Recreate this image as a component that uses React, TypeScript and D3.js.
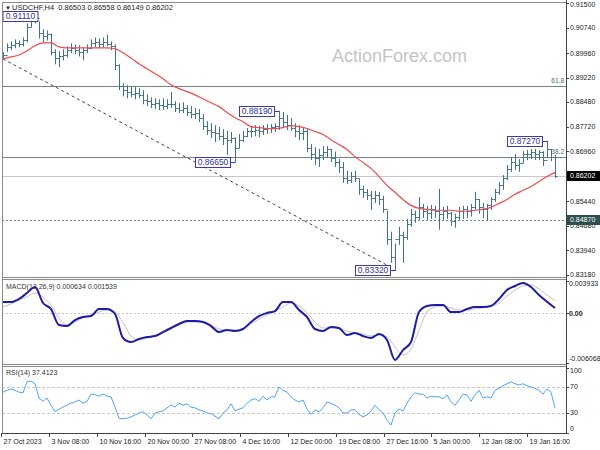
import { useEffect, useRef } from "react";
import * as d3 from "d3";

// USDCHF H4 — prices in pips (x 1e-4), one bar here ~ 2.7 source bars
const barHigh = [
  8998, 9025, 9031, 9037, 9034, 9043, 9086, 9107, 9111, 9092,
  9068, 9065, 9055, 9007, 9001, 9007, 9016, 9025, 9022, 9019,
  9013, 9022, 9037, 9043, 9040, 9043, 9052, 9031, 9022, 8961,
  8903, 8897, 8894, 8891, 8888, 8882, 8869, 8860, 8857, 8854,
  8857, 8854, 8876, 8848, 8842, 8845, 8836, 8833, 8827, 8824,
  8809, 8787, 8781, 8775, 8769, 8763, 8757, 8754, 8738, 8748,
  8757, 8766, 8772, 8775, 8772, 8775, 8778, 8778, 8781, 8819,
  8815, 8806, 8796, 8781, 8775, 8769, 8763, 8717, 8707, 8702,
  8711, 8711, 8702, 8694, 8671, 8662, 8635, 8632, 8635, 8610,
  8589, 8580, 8574, 8574, 8571, 8559, 8513, 8449, 8412, 8464,
  8449, 8488, 8519, 8513, 8555, 8534, 8528, 8531, 8528, 8580,
  8525, 8528, 8510, 8504, 8525, 8528, 8528, 8534, 8571, 8549,
  8537, 8534, 8555, 8580, 8601, 8622, 8653, 8677, 8687, 8671,
  8695, 8699, 8702, 8702, 8699, 8695, 8727, 8702, 8684,
];
const barLow = [
  8979, 9001, 9007, 9013, 9016, 9019, 9031, 9077, 9089, 9043,
  9031, 9037, 8991, 8964, 8955, 8976, 8985, 8998, 8995, 8988,
  8976, 8998, 9010, 9016, 9013, 9016, 9019, 9007, 8946, 8885,
  8866, 8860, 8863, 8857, 8860, 8842, 8836, 8830, 8827, 8824,
  8824, 8827, 8830, 8818, 8815, 8815, 8806, 8799, 8796, 8787,
  8763, 8748, 8738, 8726, 8732, 8717, 8687, 8723, 8665, 8707,
  8726, 8741, 8741, 8744, 8741, 8748, 8751, 8754, 8757, 8763,
  8769, 8763, 8760, 8741, 8732, 8732, 8695, 8671, 8656, 8650,
  8671, 8677, 8665, 8650, 8632, 8601, 8598, 8601, 8604, 8565,
  8555, 8549, 8519, 8540, 8534, 8510, 8412, 8357, 8332, 8412,
  8357, 8427, 8467, 8479, 8488, 8494, 8488, 8491, 8494, 8458,
  8488, 8491, 8470, 8464, 8488, 8491, 8494, 8498, 8519, 8507,
  8494, 8485, 8519, 8543, 8565, 8580, 8610, 8635, 8641, 8635,
  8662, 8671, 8674, 8671, 8671, 8653, 8677, 8668, 8616,
];
const barClose = [
  8991, 9016, 9022, 9028, 9025, 9037, 9077, 9098, 9104, 9058,
  9049, 9055, 9001, 8982, 8988, 8991, 9007, 9013, 9007, 9001,
  9007, 9013, 9028, 9031, 9025, 9031, 9025, 9019, 8961, 8897,
  8885, 8879, 8873, 8876, 8869, 8854, 8851, 8842, 8845, 8839,
  8836, 8842, 8842, 8830, 8824, 8830, 8818, 8812, 8815, 8799,
  8775, 8763, 8754, 8751, 8744, 8738, 8732, 8738, 8707, 8732,
  8744, 8757, 8760, 8763, 8757, 8766, 8769, 8772, 8775, 8799,
  8787, 8778, 8769, 8760, 8751, 8760, 8707, 8687, 8677, 8684,
  8695, 8702, 8677, 8665, 8647, 8616, 8610, 8622, 8616, 8580,
  8571, 8562, 8555, 8562, 8549, 8519, 8427, 8373, 8427, 8440,
  8434, 8473, 8504, 8494, 8525, 8513, 8507, 8519, 8513, 8504,
  8513, 8507, 8482, 8494, 8513, 8519, 8513, 8525, 8549, 8525,
  8519, 8531, 8549, 8571, 8592, 8616, 8641, 8665, 8653, 8662,
  8687, 8689, 8694, 8687, 8694, 8671, 8702, 8680, 8620,
];

// moving average (red), sampled every 2nd bar, pips
const maPips = [
  8979, 8985, 8991, 9004, 9019, 9028, 9028, 9016, 9013, 9013,
  9013, 9013, 9013, 9013, 9010, 8998, 8982, 8964, 8949, 8934,
  8918, 8900, 8888, 8879, 8869, 8857, 8845, 8833, 8815, 8799,
  8787, 8772, 8769, 8766, 8766, 8769, 8775, 8772, 8766, 8757,
  8748, 8732, 8717, 8702, 8680, 8662, 8644, 8619, 8592, 8571,
  8549, 8531, 8522, 8519, 8516, 8516, 8516, 8513, 8513, 8516,
  8519, 8525, 8537, 8549, 8565, 8577, 8589, 8604, 8619, 8632,
];

// MACD(12,26,9), x 1e-4, every 2nd bar
const macdMain = [
  13.7, 13.7, 17.4, 24.7, 32.0, 12.5, 5.2, -14.4, -15.6, -8.3,
  -4.6, -3.4, 5.2, 5.2, -0.9, -30.2, -35.1, -31.4, -29.0, -27.8,
  -22.9, -18.0, -13.1, -9.5, -9.5, -10.7, -15.6, -22.9, -20.5, -21.7,
  -19.2, -10.7, -3.4, 0.3, 2.7, 13.7, 13.7, 3.9, -4.6, -19.2,
  -21.7, -16.8, -18.0, -26.6, -24.1, -27.8, -30.2, -25.3, -32.6, -57.0,
  -44.9, -35.1, 1.5, 8.8, 10.0, 10.0, 1.5, 1.5, 5.2, 7.6,
  7.6, 8.8, 17.4, 28.3, 33.2, 37.0, 32.0, 22.2, 14.0, 6.3,
];
const macdSignal = [
  7.6, 11.3, 16.1, 19.8, 24.7, 19.8, 10.0, -5.8, -14.4, -10.7,
  -5.8, -2.2, 1.5, 3.9, 1.5, -11.5, -27.8, -32.6, -30.2, -27.8,
  -24.1, -19.2, -14.4, -10.7, -10.7, -10.7, -14.4, -19.2, -20.5, -20.5,
  -19.2, -13.1, -7.0, -2.2, 2.7, 7.6, 12.5, 8.8, 0.3, -10.7,
  -18.0, -18.0, -19.2, -21.7, -24.1, -25.3, -27.8, -26.6, -29.0, -41.2,
  -51.0, -43.6, -20.5, 1.5, 7.6, 8.8, 6.4, 3.9, 3.9, 5.2,
  6.4, 8.8, 12.5, 21.0, 28.3, 33.2, 34.4, 29.6, 22.2, 15.4,
];

// RSI(14), one value per bar
const rsiValues = [
  62, 65, 67, 65, 62, 61, 78, 79, 75, 53,
  48, 53, 42, 32, 36, 39, 42, 45, 47, 50,
  45, 48, 59, 58, 56, 59, 56, 55, 39, 22,
  21, 22, 24, 27, 30, 32, 27, 21, 30, 32,
  33, 38, 42, 39, 45, 42, 44, 39, 38, 35,
  33, 30, 29, 25, 21, 30, 35, 44, 33, 36,
  38, 45, 50, 52, 48, 56, 50, 55, 55, 70,
  65, 62, 55, 50, 47, 50, 36, 28, 35, 32,
  38, 47, 45, 42, 38, 30, 30, 35, 35, 28,
  24, 27, 33, 42, 35, 30, 19, 11.5, 30, 36,
  33, 45, 55, 61, 59, 59, 53, 56, 55, 55,
  52, 58, 47, 42, 50, 59, 58, 48, 58, 65,
  53, 55, 53, 65, 68, 72, 75, 78, 75, 73,
  75, 72, 70, 68, 65, 59, 67, 62, 37.4,
];

const priceTicks = [0.915, 0.9074, 0.8996, 0.8922, 0.8848, 0.8772, 0.8696, 0.8544, 0.8468, 0.8394, 0.8318];
const dateLabels = [
  "27 Oct 2023", "3 Nov 08:00", "10 Nov 16:00", "20 Nov 00:00", "27 Nov 08:00", "4 Dec 16:00",
  "12 Dec 00:00", "19 Dec 08:00", "27 Dec 16:00", "5 Jan 00:00", "12 Jan 08:00", "19 Jan 16:00",
];
const dateTickBars = [-0.5, 11.5, 23.4, 35.4, 47.3, 59.3, 71.3, 83.2, 95.2, 107.1, 119.1, 131.1];

const pivotBars = [8, 58, 69, 98, 136];
const pivotPrices = [0.9111, 0.8665, 0.8819, 0.8332, 0.8727];

const fibNames = ["61.8", "38.2"];
const fibPrices = [0.8896, 0.868];
const trendBars = [0, 96.5];
const trendPrices = [0.8979, 0.8345];
const lastPrice = 0.86202;
const supportPrice = 0.8487;
const headerOhlc = [0.86503, 0.86558, 0.86149, 0.86202];

const macdTicks = [0.003933, 0, -0.006068];
const macdTickText = ["0.003933", "0.00", "-0.006068"];
const rsiTicks = [100, 70, 30, 0];

export default function App() {
  const ref = useRef<SVGSVGElement>(null);

  useEffect(() => {
    if (!ref.current) return;
    document.body.style.margin = "0";
    const svg = d3.select(ref.current);
    svg.selectAll("*").remove();

    const font = "'Liberation Sans', Arial, sans-serif";
    const left = 2;
    const right = 566;
    const main = { top: 2, bottom: 277 };
    const macdP = { top: 279, bottom: 365 };
    const rsiP = { top: 366, bottom: 433 };
    const N = barClose.length;
    const pip = (v: number) => v / 10000;

    const x = d3.scaleLinear().domain([0, N - 1]).range([3, 555]);
    const y = d3.scaleLinear().domain([0.8318, 0.915]).range([275, 3]);
    const yM = d3.scaleLinear().domain([-0.006068, 0.003933]).range([363, 281]);
    const yR = d3.scaleLinear().domain([0, 100]).range([432.5, 367.5]);
    const cx = (i: number) => Math.round(x(i)) + 0.5;

    svg.append("rect").attr("width", 600).attr("height", 450).attr("fill", "#fff");

    const defs = svg.append("defs");
    const panels: [string, { top: number; bottom: number }][] = [
      ["clipMain", main], ["clipMacd", macdP], ["clipRsi", rsiP],
    ];
    for (const [id, r] of panels) {
      defs.append("clipPath").attr("id", id).append("rect")
        .attr("x", left).attr("y", r.top).attr("width", right - left).attr("height", r.bottom - r.top);
    }

    // ---- main panel
    const gMain = svg.append("g").attr("clip-path", "url(#clipMain)");

    gMain.append("text")
      .attr("x", 332).attr("y", 62)
      .attr("font-family", font).attr("font-size", 18)
      .attr("fill", "#c4c4c4")
      .text("ActionForex.com");

    gMain.append("g")
      .selectAll("line")
      .data(fibPrices)
      .join("line")
        .attr("x1", left).attr("x2", right)
        .attr("y1", d => Math.round(y(d)) + 0.5).attr("y2", d => Math.round(y(d)) + 0.5)
        .attr("stroke", "#6f8585").attr("stroke-width", 1);

    gMain.append("line")
      .attr("x1", left).attr("x2", right)
      .attr("y1", Math.round(y(lastPrice)) + 0.5).attr("y2", Math.round(y(lastPrice)) + 0.5)
      .attr("stroke", "#c8c8c8");

    gMain.append("line")
      .attr("x1", left).attr("x2", right)
      .attr("y1", Math.round(y(supportPrice)) + 0.5).attr("y2", Math.round(y(supportPrice)) + 0.5)
      .attr("stroke", "#6f8a8a").attr("stroke-dasharray", "2,2");

    gMain.append("line")
      .attr("x1", x(trendBars[0])).attr("y1", y(trendPrices[0]))
      .attr("x2", x(trendBars[1])).attr("y2", y(trendPrices[1]))
      .attr("stroke", "#444").attr("stroke-dasharray", "3,3");

    const bars = gMain.append("g").attr("stroke", "#3f7191").attr("stroke-width", 1);
    const idx = d3.range(N);
    bars.selectAll("line.hl").data(idx).join("line").attr("class", "hl")
      .attr("x1", cx).attr("x2", cx)
      .attr("y1", i => y(pip(barHigh[i])) - 0.5).attr("y2", i => y(pip(barLow[i])) + 0.5);
    bars.selectAll("line.op").data(idx.slice(1)).join("line").attr("class", "op")
      .attr("x1", i => cx(i) - 2).attr("x2", i => cx(i))
      .attr("y1", i => Math.round(y(pip(barClose[i - 1]))) + 0.5)
      .attr("y2", i => Math.round(y(pip(barClose[i - 1]))) + 0.5);
    bars.selectAll("line.cl").data(idx).join("line").attr("class", "cl")
      .attr("x1", cx).attr("x2", i => cx(i) + 2)
      .attr("y1", i => Math.round(y(pip(barClose[i]))) + 0.5)
      .attr("y2", i => Math.round(y(pip(barClose[i]))) + 0.5);

    gMain.append("path")
      .datum(maPips)
      .attr("fill", "none").attr("stroke", "#f04a4a").attr("stroke-width", 1.2)
      .attr("d", d3.line<number>().x((_, k) => x(k * 2)).y(d => y(pip(d))).curve(d3.curveMonotoneX));

    gMain.append("g")
      .attr("font-family", font).attr("font-size", 6.5).attr("fill", "#4f6a6a")
      .attr("text-anchor", "end")
      .selectAll("text")
      .data(fibPrices)
      .join("text")
        .attr("x", right - 2).attr("y", d => y(d) - 3)
        .text((_, k) => fibNames[k]);

    const tagH = 10;
    const tags = gMain.append("g").attr("font-family", font).attr("font-size", 8.5);
    pivotBars.forEach((b, k) => {
      const bx = cx(b);
      const by = Math.round(y(pivotPrices[k])) + 0.5;
      const label = d3.format(".5f")(pivotPrices[k]);
      const tw = 35;
      // the first tag sits against the left edge and is partly cut, as in the source
      const boxRight = Math.max(bx - 5, left + tw + 1);
      tags.append("line")
        .attr("x1", boxRight).attr("x2", bx).attr("y1", by).attr("y2", by)
        .attr("stroke", "#3a3ab4");
      tags.append("rect")
        .attr("x", boxRight - tw).attr("y", by - tagH / 2)
        .attr("width", tw).attr("height", tagH)
        .attr("fill", "#fff").attr("stroke", "#3a3ab4");
      tags.append("text")
        .attr("x", boxRight - tw / 2).attr("y", by).attr("dy", "0.35em")
        .attr("text-anchor", "middle").attr("fill", "#3030a8")
        .text(label);
    });

    gMain.append("text")
      .attr("x", 5).attr("y", 9.5)
      .attr("font-family", font).attr("font-size", 6).attr("fill", "#222")
      .text("\u25BC");
    gMain.append("text")
      .attr("x", 12).attr("y", 9.5)
      .attr("font-family", font).attr("font-size", 7.5).attr("fill", "#222")
      .style("white-space", "pre")
      .text(`USDCHF,H4  ${headerOhlc.map(d3.format(".5f")).join(" ")}`);

    // ---- MACD panel
    const gMacd = svg.append("g").attr("clip-path", "url(#clipMacd)");
    gMacd.append("line")
      .attr("x1", left).attr("x2", right)
      .attr("y1", Math.round(yM(0)) + 0.5).attr("y2", Math.round(yM(0)) + 0.5)
      .attr("stroke", "#c8c8c8").attr("stroke-dasharray", "2,2");
    const macdLine = d3.line<number>().x((_, k) => x(k * 2)).y(d => yM(d / 10000)).curve(d3.curveMonotoneX);
    gMacd.append("path").datum(macdSignal)
      .attr("fill", "none").attr("stroke", "#c4c4c4").attr("stroke-width", 1)
      .attr("d", macdLine);
    gMacd.append("path").datum(macdMain)
      .attr("fill", "none").attr("stroke", "#1c1ca8").attr("stroke-width", 2)
      .attr("d", macdLine);
    gMacd.append("text")
      .attr("x", 6).attr("y", 289)
      .attr("font-family", font).attr("font-size", 7).attr("fill", "#333")
      .text("MACD(12,26,9) 0.000634 0.001539");

    // ---- RSI panel
    const gRsi = svg.append("g").attr("clip-path", "url(#clipRsi)");
    gRsi.append("g")
      .selectAll("line")
      .data([70, 30])
      .join("line")
        .attr("x1", left).attr("x2", right)
        .attr("y1", d => Math.round(yR(d)) + 0.5).attr("y2", d => Math.round(yR(d)) + 0.5)
        .attr("stroke", "#c8c8c8").attr("stroke-dasharray", "3,2");
    gRsi.append("path").datum(rsiValues)
      .attr("fill", "none").attr("stroke", "#4ea4ff").attr("stroke-width", 1)
      .attr("d", d3.line<number>().x((_, i) => x(i)).y(d => yR(d)));
    gRsi.append("text")
      .attr("x", 6).attr("y", 375)
      .attr("font-family", font).attr("font-size", 7).attr("fill", "#333")
      .text("RSI(14) 37.4123");

    // ---- frames
    const frame = svg.append("g").attr("fill", "none").attr("stroke", "#8a8a8a");
    frame.append("line").attr("x1", left + 0.5).attr("x2", left + 0.5).attr("y1", main.top).attr("y2", rsiP.bottom);
    frame.append("line").attr("x1", left).attr("x2", right).attr("y1", main.top + 0.5).attr("y2", main.top + 0.5);
    for (const yy of [277.5, 279.5, 364.5, 366.5]) {
      frame.append("line").attr("x1", left).attr("x2", right).attr("y1", yy).attr("y2", yy);
    }
    svg.append("line")
      .attr("x1", right + 0.5).attr("x2", right + 0.5).attr("y1", 0).attr("y2", rsiP.bottom + 1)
      .attr("stroke", "#444");
    svg.append("line")
      .attr("x1", left).attr("x2", right + 1).attr("y1", rsiP.bottom + 0.5).attr("y2", rsiP.bottom + 0.5)
      .attr("stroke", "#444");

    // ---- right axis
    const axis = svg.append("g").attr("font-family", font).attr("font-size", 7).attr("fill", "#1a1a1a");
    const tickMark = (yy: number) =>
      axis.append("line").attr("x1", right).attr("x2", right + 3)
        .attr("y1", Math.round(yy) + 0.5).attr("y2", Math.round(yy) + 0.5).attr("stroke", "#444");

    priceTicks.forEach(v => {
      tickMark(y(v));
      axis.append("text").attr("x", 570).attr("y", Math.max(5, y(v))).attr("dy", "0.35em").text(d3.format(".5f")(v));
    });

    const priceBox = (v: number, fill: string) => {
      const yy = Math.round(y(v));
      axis.append("rect").attr("x", 567).attr("y", yy - 5).attr("width", 33).attr("height", 10).attr("fill", fill);
      axis.append("text").attr("x", 570).attr("y", yy).attr("dy", "0.35em").attr("fill", "#fff")
        .text(d3.format(".5f")(v));
    };
    priceBox(lastPrice, "#000");
    priceBox(supportPrice, "#2f4f4f");

    macdTicks.forEach((v, k) => {
      const yy = Math.max(284, Math.min(359, yM(v)));
      tickMark(yM(v));
      axis.append("text").attr("x", 569).attr("y", yy).attr("dy", "0.35em")
        .attr("font-weight", v === 0 ? "bold" : null)
        .text(macdTickText[k]);
    });

    rsiTicks.forEach(v => {
      const yy = Math.max(370.5, Math.min(429, yR(v)));
      tickMark(yR(v));
      axis.append("text").attr("x", 570).attr("y", yy).attr("dy", "0.35em").text(String(v));
    });

    // ---- time axis
    const tAxis = svg.append("g").attr("font-family", font).attr("font-size", 7).attr("fill", "#1a1a1a");
    dateTickBars.forEach((b, k) => {
      const tx = Math.round(x(b)) + 0.5;
      tAxis.append("line").attr("x1", tx).attr("x2", tx).attr("y1", rsiP.bottom).attr("y2", rsiP.bottom + 4)
        .attr("stroke", "#444");
      tAxis.append("text").attr("x", tx + 2).attr("y", 444).text(dateLabels[k]);
    });
  }, []);

  return <svg ref={ref} width={600} height={450} style={{ display: "block" }} />;
}
